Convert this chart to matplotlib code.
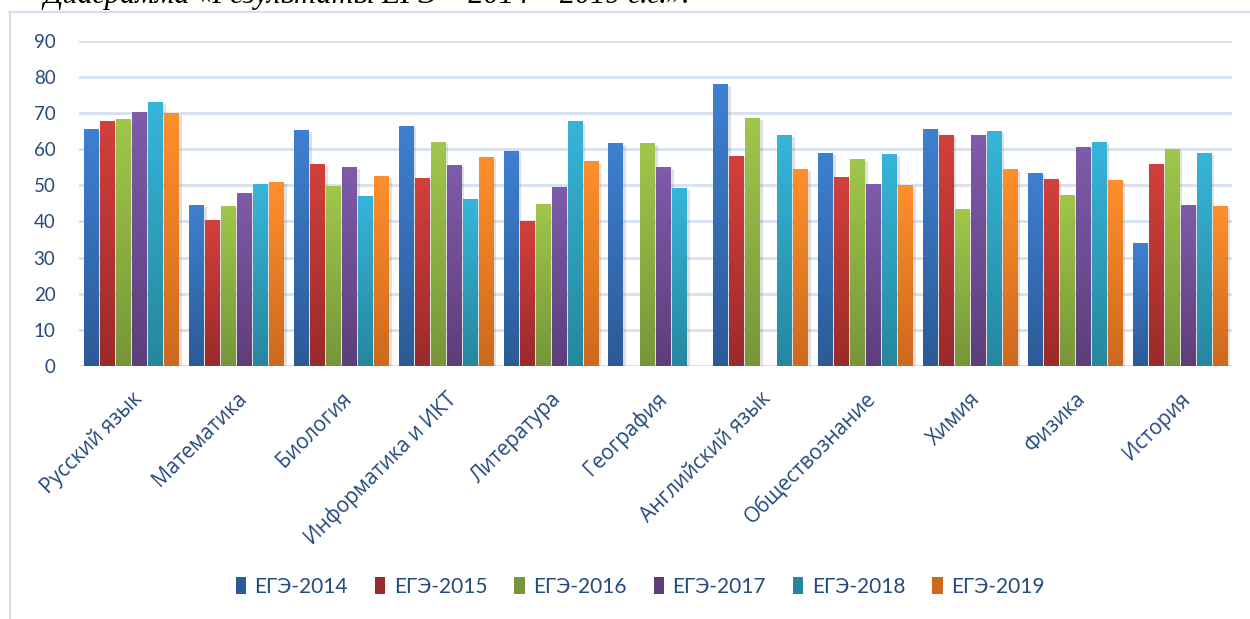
import numpy as np
import matplotlib
matplotlib.use("Agg")
import matplotlib.pyplot as plt
from matplotlib.colors import to_rgb
from matplotlib.patches import Patch
from matplotlib.lines import Line2D
import matplotlib.patheffects as pe

categories = ["Русский язык", "Математика", "Биология", "Информатика и ИКТ",
              "Литература", "География", "Английский язык", "Обществознание",
              "Химия", "Физика", "История"]
series_names = ["ЕГЭ-2014", "ЕГЭ-2015", "ЕГЭ-2016", "ЕГЭ-2017", "ЕГЭ-2018", "ЕГЭ-2019"]
nan = np.nan
ege_2014 = [65.6, 44.5, 65.3, 66.4, 59.5, 61.7, 78.0, 58.9, 65.6, 53.4, 34.0]
ege_2015 = [67.8, 40.4, 55.9, 52.0, 40.1, nan, 58.1, 52.3, 63.9, 51.7, 55.9]
ege_2016 = [68.3, 44.3, 49.8, 62.0, 44.8, 61.7, 68.6, 57.3, 43.4, 47.3, 60.0]
ege_2017 = [70.3, 47.9, 55.1, 55.6, 49.5, 55.1, nan, 50.3, 63.9, 60.6, 44.5]
ege_2018 = [73.0, 50.3, 47.0, 46.2, 67.8, 49.2, 63.9, 58.6, 65.0, 62.0, 58.9]
ege_2019 = [70.0, 50.9, 52.6, 57.8, 56.7, nan, 54.5, 50.1, 54.5, 51.5, 44.3]
series_values = [ege_2014, ege_2015, ege_2016, ege_2017, ege_2018, ege_2019]

top_colors = ["#3e80d1", "#d3403b", "#a0c74a", "#7f5bab", "#37b5d9", "#fe902c"]
bot_colors = ["#2c5a96", "#9a2a2b", "#76963a", "#5d3e7a", "#25879e", "#cd691e"]

text_color = "#254a7c"
grid_color = "#d5e1f1"

W, H = 1250, 619
fig = plt.figure(figsize=(W / 100, H / 100), dpi=100)
fig.patch.set_facecolor("white")

ax = fig.add_axes([79 / W, 1 - 366 / H, (1232 - 79) / W, (366 - 40.7) / H])
ax.set_facecolor("white")

x = np.arange(len(categories))
pitch = 0.1527
width = 0.134
for i, (vals, tc, bc) in enumerate(zip(series_values, top_colors, bot_colors)):
    off = (i - 2.5) * pitch
    bars = ax.bar(x + off, vals, width, color=bc, zorder=2, linewidth=0,
                  path_effects=[pe.SimplePatchShadow(offset=(2.5, -1.5), shadow_rgbFace="#888888", alpha=0.25),
                                pe.Normal()])
    t = np.array(to_rgb(tc)); b = np.array(to_rgb(bc))
    grad = np.linspace(0, 1, 256)[:, None, None] * (b - t)[None, None, :] + t[None, None, :]
    for bar in bars:
        h = bar.get_height()
        if not np.isfinite(h):
            continue
        bx = bar.get_x()
        im = ax.imshow(grad, extent=[bx, bx + bar.get_width(), 0, h], aspect="auto",
                       origin="upper", zorder=3, interpolation="bilinear")
        im.set_clip_path(bar)

ax.set_xlim(-0.5, len(categories) - 0.5)
ax.set_ylim(0, 90)
ax.set_yticks(np.arange(0, 91, 10))
ax.yaxis.grid(True, color=grid_color, linewidth=2, zorder=0)
ax.set_axisbelow(True)
for s in ax.spines.values():
    s.set_visible(False)
ax.axhline(0, color=grid_color, linewidth=2, zorder=1)
ax.tick_params(axis="y", length=0, pad=17, labelsize=13.5, labelcolor=text_color)
for lab in ax.get_yticklabels():
    lab.set_family("Lato")

ax.set_xticks(x)
ax.set_xticklabels(categories, rotation=45, ha="right", rotation_mode="anchor",
                   fontsize=15, color=text_color, family="Open Sans")
ax.tick_params(axis="x", length=0, pad=16)

handles = [Patch(facecolor=bc, edgecolor="none") for bc in bot_colors]
leg = fig.legend(handles, series_names, loc="center", bbox_to_anchor=(0.512, 1 - 587 / H),
                 ncol=6, frameon=False, handlelength=0.5, handleheight=0.9,
                 handletextpad=0.4, columnspacing=1.3,
                 prop={"family": "Lato", "size": 15})
for t in leg.get_texts():
    t.set_color(text_color)

fig.text(43 / W, 1 - 3 / H, "Диаграмма «Результаты ЕГЭ – 2014 – 2019 г.г.».",
         family="Liberation Serif", style="italic", fontsize=22, va="baseline",
         color="black")

fig.add_artist(Line2D([9 / W, 1.0], [1 - 12 / H, 1 - 12 / H], transform=fig.transFigure,
                      color="#d3e0f0", linewidth=1.5))
fig.add_artist(Line2D([9.5 / W, 9.5 / W], [0, 1 - 12 / H], transform=fig.transFigure,
                      color="#d3e0f0", linewidth=1.5))

fig.savefig("out.png", dpi=100)
